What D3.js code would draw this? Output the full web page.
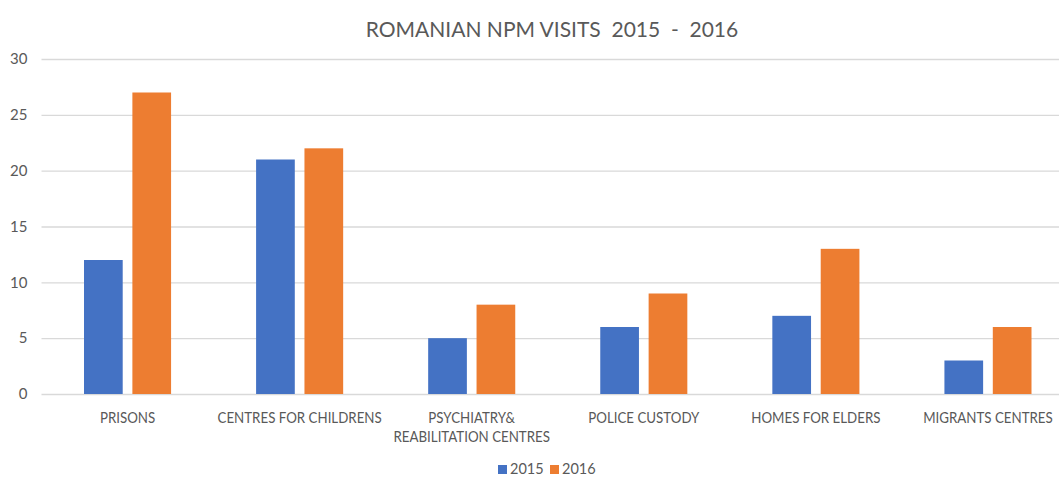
<!DOCTYPE html>
<html><head><meta charset="utf-8">
<script src="https://cdn.jsdelivr.net/npm/d3@7"></script>
<style>
html,body{margin:0;padding:0;background:#fff;overflow:hidden}
text{font-family:Lato,"Open Sans",sans-serif;fill:#595959}
</style></head>
<body><svg id="c" width="1059" height="477"></svg>
<script>
const categories = ["PRISONS","CENTRES FOR CHILDRENS","PSYCHIATRY&\nREABILITATION CENTRES","POLICE CUSTODY","HOMES FOR ELDERS","MIGRANTS CENTRES"];
const seriesNames = ["2015","2016"];
const values2015 = [12,21,5,6,7,3];
const values2016 = [27,22,8,9,13,6];
const yTicks = [0,5,10,15,20,25,30];
const colors = ["#4472C4","#ED7D31"];
const title = "ROMANIAN NPM VISITS  2015  -  2016";

const svg = d3.select("#c");
const pLeft = 41.5, pRight = 1074, pTop = 59, pBottom = 394;
const x0 = d3.scaleBand().domain(categories).range([pLeft, pRight]).paddingInner(0.494).paddingOuter(0.247);
const x1 = d3.scaleBand().domain(seriesNames).range([0, x0.bandwidth()]).paddingInner(0.2);
const y = d3.scaleLinear().domain([0,30]).range([pBottom, pTop]);

svg.append("text").attr("x", 552).attr("y", 37).attr("text-anchor","middle")
  .style("font-size","21px").style("white-space","pre").attr("xml:space","preserve").text(title);

// gridlines
const yAxis = d3.axisLeft(y).tickValues(yTicks).tickSize(-(1059-pLeft)).tickPadding(14);
const gy = svg.append("g").attr("transform",`translate(${pLeft},0)`).call(yAxis);
gy.select(".domain").remove();
gy.selectAll(".tick line").attr("stroke","#d9d9d9").attr("stroke-width",1.3);
gy.selectAll(".tick text").style("font-size","15px").style("fill","#595959").attr("font-family","Lato");

const data = categories.map((c,i)=>({cat:c, vals:[values2015[i], values2016[i]]}));
const g = svg.append("g");
data.forEach(d=>{
  d.vals.forEach((v,j)=>{
    g.append("rect")
      .attr("x", x0(d.cat)+x1(seriesNames[j]))
      .attr("y", y(v))
      .attr("width", x1.bandwidth())
      .attr("height", y(0)-y(v))
      .attr("fill", colors[j]);
  });
});

// x axis labels
const xAxis = d3.axisBottom(x0).tickSize(0).tickPadding(0);
const gx = svg.append("g").attr("transform",`translate(0,${pBottom})`).call(xAxis);
gx.select(".domain").remove();
gx.selectAll(".tick text").each(function(d){
  const t = d3.select(this);
  const lines = d.split("\n");
  t.text(null).attr("y", 29).attr("dy", null).attr("transform","scale(0.9,1)")
   .style("font-size","14.8px").style("fill","#595959").attr("font-family","Lato");
  lines.forEach((l,k)=>{
    t.append("tspan").attr("x",0).attr("dy", k===0?0:19).text(l);
  });
});

// legend
const legend = svg.append("g");
const legendX = [498, 550];
seriesNames.forEach((s,j)=>{
  legend.append("rect").attr("x", legendX[j]).attr("y", 465).attr("width",9).attr("height",9).attr("fill",colors[j]);
  legend.append("text").attr("x", legendX[j]+12).attr("y", 474).style("font-size","14.5px").text(s);
});
</script></body></html>
